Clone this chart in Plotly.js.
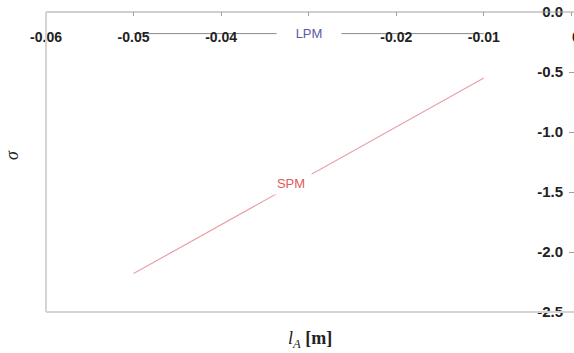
<!DOCTYPE html>
<html>
<head>
<meta charset="utf-8">
<script src="https://cdn.plot.ly/plotly-3.0.1.min.js"></script>
<style>html,body{margin:0;padding:0;background:#fff;}#chart{width:574px;height:353px;}</style>
</head>
<body>
<div id="chart"></div>
<script>
const lA = [-0.05, -0.01];
const sigmaLPM = [-0.18, -0.18];
const sigmaSPM = [-2.18, -0.55];
const xTicks = [-0.06, -0.05, -0.04, -0.03, -0.02, -0.01, 0];
const xLabelVals = [-0.06, -0.05, -0.04, -0.02, -0.01];
const xLabelText = ['-0.06', '-0.05', '-0.04', '-0.02', '-0.01'];
const yTicks = [0, -0.5, -1.0, -1.5, -2.0, -2.5];
const yTickText = ['0.0', '-0.5', '-1.0', '-1.5', '-2.0', '-2.5'];

const traces = [
  {x: lA, y: sigmaLPM, xaxis: 'x2', yaxis: 'y2', mode: 'lines', line: {color: '#8a8a8a', width: 1}, hoverinfo: 'skip'},
  {x: lA, y: sigmaSPM, mode: 'lines', line: {color: '#e8a0a8', width: 1.2}, hoverinfo: 'skip'}
];

const tickFont = {family: 'Liberation Sans, Arial', size: 14, color: '#222', weight: 'bold'};

const layout = {
  width: 574, height: 353,
  margin: {l: 46, r: 0, t: 12, b: 41, pad: 0},
  paper_bgcolor: '#fff', plot_bgcolor: '#fff',
  showlegend: false,
  xaxis: {
    range: [-0.06, 0.0003], side: 'top', showgrid: false, zeroline: false,
    showline: false,
    ticks: 'inside', ticklen: 4, tickcolor: '#a0a0a0',
    tickvals: xTicks, showticklabels: false
  },
  xaxis2: {
    range: [-0.06, 0.0003], overlaying: 'x', side: 'bottom', anchor: 'free', position: 1,
    showgrid: false, zeroline: false, showline: false, ticks: '',
    tickvals: xLabelVals, ticktext: xLabelText, ticklabelstandoff: 15,
    tickfont: tickFont
  },
  yaxis: {
    range: [-2.5, 0], side: 'right', showgrid: false, zeroline: false,
    showline: false,
    ticks: 'inside', ticklen: 5, tickcolor: '#a0a0a0',
    tickvals: yTicks, showticklabels: false
  },
  yaxis2: {
    range: [-2.5, 0], overlaying: 'y', side: 'left', anchor: 'free', position: 1,
    showgrid: false, zeroline: false, showline: false, ticks: '',
    tickvals: yTicks, ticktext: yTickText, ticklabelstandoff: 11,
    tickfont: {family: 'Liberation Sans, Arial', size: 15, color: '#222', weight: 'bold'}
  },
  shapes: [
    {type: 'line', xref: 'paper', yref: 'paper', x0: 0, x1: 1, y0: 1, y1: 1, line: {color: '#a0a0a0', width: 1}},
    {type: 'line', xref: 'paper', yref: 'paper', x0: 0, x1: 1, y0: 0, y1: 0, line: {color: '#d4d4d4', width: 2}},
    {type: 'line', xref: 'paper', yref: 'paper', x0: 0, x1: 0, y0: 0, y1: 1, line: {color: '#d4d4d4', width: 2}}
  ],
  annotations: [
    {x: -0.03, y: sigmaLPM[0], xref: 'x', yref: 'y', text: 'LPM', showarrow: false,
     font: {family: 'Liberation Sans, Arial', size: 13, color: '#5a5aaa'},
     bgcolor: '#fff', width: 62, borderpad: 1},
    {x: -0.032, y: -1.43, xref: 'x', yref: 'y', text: 'SPM', showarrow: false,
     font: {family: 'Liberation Sans, Arial', size: 13, color: '#e05a5a'},
     bgcolor: '#fff', width: 34, borderpad: 3},
    {x: 0, y: 0, xref: 'paper', yref: 'paper', xanchor: 'center', yanchor: 'middle', text: '<i>σ</i>', showarrow: false,
     textangle: -90, font: {family: 'Liberation Serif, Times New Roman', size: 18, color: '#222'}},
    {x: 0.5, y: 0, xref: 'paper', yref: 'paper', yanchor: 'top', yshift: -14, text: '<i>l</i><sub><i>A</i></sub> <b>[m]</b>', showarrow: false,
     font: {family: 'Liberation Serif, Times New Roman', size: 18, color: '#222'}},
    {x: 0, y: 0, xref: 'x', yref: 'y', xanchor: 'center', yanchor: 'top', xshift: 5, yshift: -15, text: '0', showarrow: false,
     font: tickFont}
  ]
};
// sigma title position in paper coordinates
layout.annotations[2].x = (12 - 46) / 528;
layout.annotations[2].y = 1 - (155 - 12) / 300;

Plotly.newPlot('chart', traces, layout, {staticPlot: true, displayModeBar: false});
</script>
</body>
</html>
